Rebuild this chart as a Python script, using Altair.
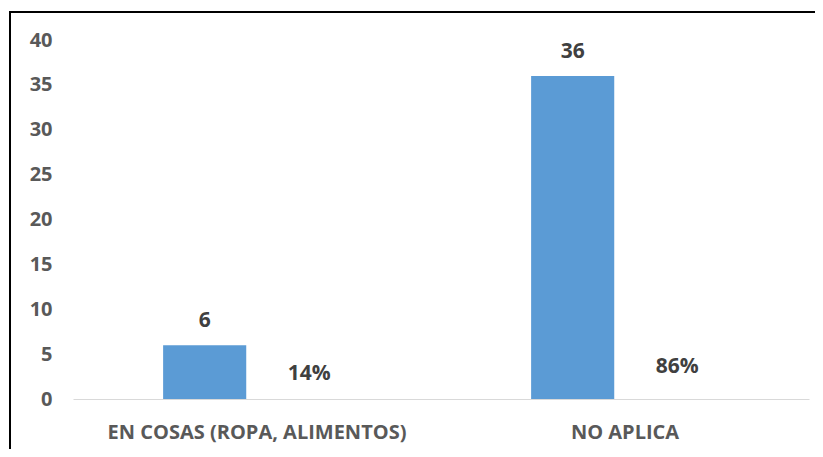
import altair as alt
import pandas as pd

categories = ["EN COSAS (ROPA, ALIMENTOS)", "NO APLICA"]
counts = [6, 36]
percents = [0.14, 0.86]
percent_labels = ["14%", "86%"]
series = ["Cantidad", "Porcentaje"]
y_ticks = [0, 5, 10, 15, 20, 25, 30, 35, 40]

rows = []
for c, n, p, pl in zip(categories, counts, percents, percent_labels):
    rows.append({"cat": c, "serie": series[0], "valor": n, "etiqueta": str(n)})
    rows.append({"cat": c, "serie": series[1], "valor": p, "etiqueta": pl})
df = pd.DataFrame(rows)

FONT = "Open Sans"

x_enc = alt.X(
    "cat:N",
    sort=categories,
    scale=alt.Scale(paddingInner=0, paddingOuter=0),
    axis=alt.Axis(
        title=None, labelAngle=0, ticks=False, domainColor="#d9d9d9", domainWidth=1,
        labelFont=FONT, labelFontSize=20, labelFontWeight="bold", labelColor="#595959",
        labelPadding=23, labelLimit=0,
    ),
)
xo_enc = alt.XOffset(
    "serie:N",
    sort=series,
    scale=alt.Scale(domain=series, paddingInner=0.2057, paddingOuter=0.8612),
)
y_enc = alt.Y(
    "valor:Q",
    scale=alt.Scale(domain=[0, 40], nice=False),
    axis=alt.Axis(
        title=None, values=y_ticks, grid=False, domain=False, ticks=False,
        labelFont=FONT, labelFontSize=20, labelFontWeight="bold", labelColor="#595959",
        labelPadding=21,
    ),
)

bars = (
    alt.Chart(df)
    .transform_filter(alt.datum.serie == series[0])
    .mark_bar(color="#5B9BD5")
    .encode(x=x_enc, xOffset=xo_enc, y=y_enc)
)

labels = (
    alt.Chart(df)
    .mark_text(baseline="alphabetic", dy=-18, font=FONT, fontSize=21,
               fontWeight="bold", color="#404040")
    .encode(x=x_enc, xOffset=xo_enc, y=y_enc, text="etiqueta:N")
)

frame_df = pd.DataFrame({"a": [0]})
frame_top = (
    alt.Chart(frame_df)
    .mark_rule(color="black", strokeWidth=2)
    .encode(x=alt.value(-64), x2=alt.value(780), y=alt.value(-28))
)
frame_left = (
    alt.Chart(frame_df)
    .mark_rule(color="black", strokeWidth=2)
    .encode(x=alt.value(-63), y=alt.value(-29), y2=alt.value(480))
)

chart = (
    alt.layer(bars, labels, frame_top, frame_left)
    .properties(
        width=736, height=359,
        autosize=alt.AutoSizeParams(type="none"),
        padding={"left": 65, "top": 32, "right": 6, "bottom": 50},
    )
    .configure_view(stroke=None)
)

chart.save("out.html", embed_options={"renderer": "svg", "actions": False})
